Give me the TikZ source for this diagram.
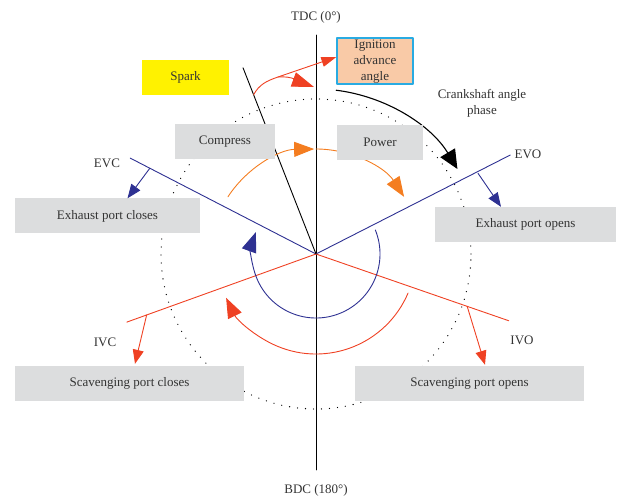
\documentclass[tikz,border=0pt]{standalone}
\usepackage{fontspec}
\setmainfont{Liberation Serif}
\usetikzlibrary{arrows.meta}

\definecolor{cycleblue}{HTML}{2E3192}
\definecolor{cyclered}{HTML}{EF4123}
\definecolor{cycleorange}{HTML}{F47D20}
\definecolor{sparkyellow}{HTML}{FFF200}
\definecolor{ignpeach}{HTML}{F9CAA7}
\definecolor{igncyan}{HTML}{29ABE2}
\definecolor{boxgray}{HTML}{DCDDDE}
\definecolor{txtgray}{HTML}{333333}

\tikzset{
	phase/.style={fill=boxgray, text=txtgray, minimum height=35pt, inner sep=0pt},
	tag/.style={text=txtgray, inner sep=0pt},
	bigtip/.style={-{Triangle[length=20pt, width=15pt]}},
	smalltip/.style={-{Triangle[length=14pt, width=11pt]}},
}

\begin{document}
\begin{tikzpicture}[x=1pt, y=1pt, font=\fontsize{13}{16}\selectfont, line join=round, line cap=round]
	\def\R{155}	\def\rb{64}	\def\ro{105}	\def\rr{100}	\def\rk{165}
	\useasboundingbox (-316,-246) rectangle (304,254);
	\coordinate (O) at (0,0);
	% crank circle and dead centres
	\draw[line width=1.3pt, dash pattern=on 0pt off 8pt] (O) circle (\R);
	\draw[line width=0.9pt] (0,219) -- (0,-216);
	\node[tag] (tdc) at (0,237) {TDC (0°)};
	\node[tag] (bdc) at (0,-236) {BDC (180°)};
	% port timing lines
	\coordinate (evc) at (152.7:209);	\coordinate (evo) at (27:218);
	\coordinate (ivc) at (199.8:201);	\coordinate (ivo) at (-19.1:204);
	\coordinate (spk) at (111.4:200);
	\draw[cycleblue, line width=0.9pt] (evc) -- (O) -- (evo);
	\draw[cyclered, line width=0.9pt] (ivc) -- (O) -- (ivo);
	\draw[line width=0.9pt] (spk) -- (O);
	\node[tag] (evclab) at (-209,91) {EVC};
	\node[tag] (evolab) at (212,100) {EVO};
	\node[tag] (ivclab) at (-211,-88) {IVC};
	\node[tag] (ivolab) at (206,-86) {IVO};
	% phase arcs
	\draw[cycleorange, line width=0.9pt, bigtip] (147:\ro) arc[start angle=147, end angle=91, radius=\ro];
	\draw[cycleorange, line width=0.9pt, bigtip] (90:\ro) arc[start angle=90, end angle=33, radius=\ro];
	\draw[cycleblue, line width=0.9pt, bigtip] (22:\rb) arc[start angle=22, end angle=-200, radius=\rb];
	\draw[cyclered, line width=0.9pt, bigtip] (-23:\rr) arc[start angle=-23, end angle=-154, radius=\rr];
	\draw[line width=1.1pt, -{Triangle[length=19pt, width=17pt]}] (83:\rk) arc[start angle=83, end angle=31, radius=\rk];
	% boxes
	\node[phase, minimum width=100pt] (comp) at (-91,112) {Compress};
	\node[phase, minimum width=86pt] (pow) at (64,111.5) {Power};
	\node[phase, minimum width=185pt] (exclose) at (-208.5,38) {Exhaust port closes};
	\node[phase, minimum width=181pt] (exopen) at (209.5,29.5) {Exhaust port opens};
	\node[phase, minimum width=229pt] (scclose) at (-186.5,-129.5) {Scavenging port closes};
	\node[phase, minimum width=229pt] (scopen) at (153.5,-129.5) {Scavenging port opens};
	\node[fill=sparkyellow, text=txtgray, minimum width=87pt, minimum height=35pt, inner sep=0pt] (spark) at (-130.5,176.5) {Spark};
	\node[fill=ignpeach, draw=igncyan, line width=1.3pt, text=txtgray, minimum width=76pt, minimum height=46pt, inner sep=0pt, text height=42pt, text depth=2pt, align=center] (ign) at (59,193) {Ignition\\advance\\angle};
	\node[tag, align=center] (crank) at (166,151) {Crankshaft angle\\phase};
	% port events
	\coordinate (evcpt) at (152.7:187);	\coordinate (evopt) at (26.5:181);
	\coordinate (ivcpt) at (199.8:180);	\coordinate (ivopt) at (-19.1:160);
	\draw[cycleblue, line width=0.9pt, smalltip] (evcpt) -- ([xshift=20pt]exclose.north);
	\draw[cycleblue, line width=0.9pt, smalltip] (evopt) -- ([xshift=-24.5pt]exopen.north);
	\draw[cyclered, line width=0.9pt, smalltip] (ivcpt) -- ([xshift=5.5pt, yshift=2pt]scclose.north);
	\draw[cyclered, line width=0.9pt, smalltip] (ivopt) -- ([xshift=15.5pt, yshift=1pt]scopen.north);
	% spark timing
	\coordinate (spkpt) at (111.4:171);	\coordinate (branch) at (-38,177);	\coordinate (tdcpt) at (-2,167);
	\draw[cyclered, line width=0.9pt] (spkpt) to[out=62, in=199] (branch);
	\draw[cyclered, line width=0.9pt, -{Triangle[length=15pt, width=10pt]}] (branch) -- ([yshift=4pt]ign.west);
	\draw[cyclered, line width=0.9pt, -{Triangle[length=22pt, width=15pt]}] (branch) to[out=5, in=160] (tdcpt);
\end{tikzpicture}
\end{document}
